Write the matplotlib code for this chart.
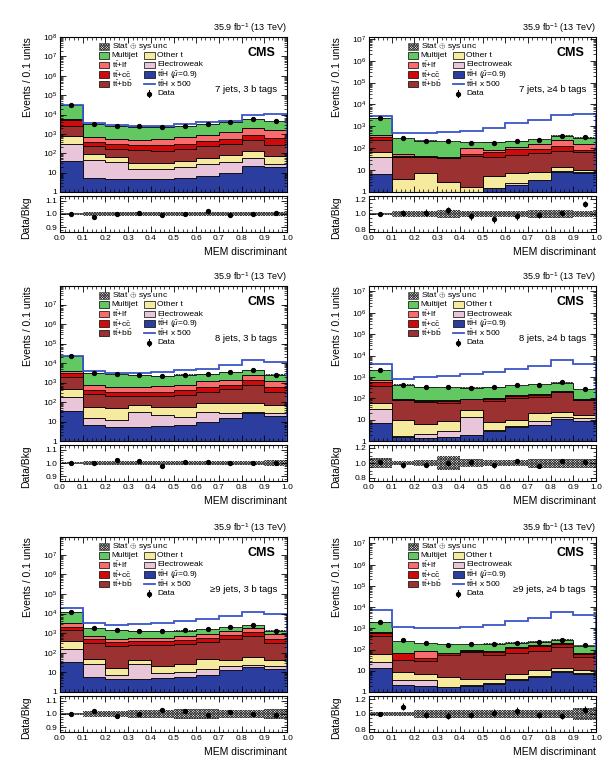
import numpy as np
import matplotlib
matplotlib.use("Agg")
import matplotlib.pyplot as plt
from matplotlib.patches import Rectangle
from matplotlib.ticker import MultipleLocator, LogLocator, FuncFormatter, NullFormatter

plt.rcParams['font.family'] = ['Liberation Sans', 'DejaVu Sans']
plt.rcParams['mathtext.fontset'] = 'custom'
plt.rcParams['mathtext.rm'] = 'Liberation Sans'
plt.rcParams['mathtext.it'] = 'Liberation Sans:italic'
plt.rcParams['mathtext.bf'] = 'Liberation Sans:bold'
plt.rcParams['hatch.linewidth'] = 0.55

# bin edges of the MEM discriminant
edges = [0.0, 0.1, 0.2, 0.3, 0.4, 0.5, 0.6, 0.7, 0.8, 0.9, 1.0]

# stack order (bottom -> top)
proc_labels = [r"$\mathrm{t\bar{t}H}$ ($\hat{\mu}$=0.9)", "Electroweak", "Other t",
               r"$\mathrm{t\bar{t}}$+$\mathrm{b\bar{b}}$", r"$\mathrm{t\bar{t}}$+$\mathrm{c\bar{c}}$",
               r"$\mathrm{t\bar{t}}$+lf", "Multijet"]
proc_colors = ["#2b3d9e", "#e8c5d9", "#f6ea9e", "#9b3131", "#d00a0a", "#fb6b6b", "#62c862"]
line_blue = "#3a55c8"
hatch_col = "0.2"
hatch_pat = "x" * 13

# cumulative stack levels per category (ttH, +EW, +other t, +bb, +cc, +lf, +multijet)
stack_7j3b = [
    [38, 5.5, 4.9, 4.9, 4.9, 5.5, 6.7, 9.6, 22, 19.5],
    [315, 47, 35, 16, 16, 19.5, 29, 35, 59, 29],
    [745, 88, 64, 33, 33, 38, 57, 78, 125, 69],
    [2460, 236, 172, 141, 130, 160, 228, 290, 465, 255],
    [5000, 380, 290, 255, 255, 315, 430, 565, 915, 610],
    [6100, 690, 565, 500, 540, 690, 915, 1250, 2000, 1520],
    [30000, 3300, 2600, 2400, 2400, 2650, 3150, 4000, 5800, 4400],
]
data_7j3b = [30000, 3230, 2600, 2420, 2380, 2650, 3210, 3960, 5800, 4440]
tth500_7j3b = [31000, 3700, 2800, 2500, 2600, 3100, 3900, 4600, 10000, 11000]
ratio_7j3b = [1.00, 0.98, 1.00, 1.01, 0.99, 1.00, 1.02, 0.99, 1.00, 1.01]
rerr_7j3b = [0.005, 0.01, 0.01, 0.01, 0.01, 0.01, 0.01, 0.01, 0.01, 0.01]
band_7j3b = [0.01, 0.018, 0.018, 0.018, 0.018, 0.018, 0.018, 0.018, 0.018, 0.018]

stack_7j4b = [
    [6.5, 0.9, 0.9, 0.9, 0.9, 1.5, 2.0, 3.4, 8.3, 7.7],
    [40, 0.95, 0.95, 0.95, 0.95, 1.6, 2.7, 3.6, 8.8, 8.2],
    [64, 4.1, 7.7, 2.9, 1.7, 5.4, 7, 8.3, 14, 9.9],
    [235, 40, 40, 34, 45, 40, 48, 62, 76, 69],
    [335, 45, 42, 37, 55, 65, 88, 90, 125, 82],
    [400, 52, 45, 40, 98, 82, 117, 155, 235, 150],
    [2400, 280, 220, 205, 185, 190, 215, 250, 370, 300],
]
data_7j4b = [2400, 283, 224, 215, 179, 177, 209, 248, 374, 342]
tth500_7j4b = [3100, 480, 510, 570, 610, 810, 1470, 1950, 3300, 3800]
ratio_7j4b = [1.00, 1.01, 1.02, 1.05, 0.97, 0.93, 0.97, 0.99, 1.01, 1.14]
rerr_7j4b = [0.01, 0.04, 0.045, 0.045, 0.045, 0.045, 0.045, 0.04, 0.035, 0.04]
band_7j4b = [0.015, 0.035, 0.045, 0.05, 0.045, 0.035, 0.04, 0.055, 0.05, 0.04]

stack_8j3b = [
    [36, 6.6, 5.5, 5.5, 6.2, 6.6, 9.1, 14.6, 26, 19.4],
    [190, 14.6, 12, 32, 22, 16.5, 30, 26.5, 32, 26.5],
    [455, 54, 48, 71, 54, 58, 87, 87, 94, 71],
    [1900, 250, 208, 208, 208, 240, 345, 455, 760, 345],
    [3000, 420, 345, 345, 345, 420, 625, 760, 1370, 580],
    [4000, 705, 625, 625, 680, 760, 1140, 1370, 2300, 1140],
    [23500, 3100, 2600, 2450, 2250, 2550, 2850, 3350, 4350, 2550],
]
data_8j3b = [23500, 3100, 2650, 2490, 2200, 2580, 2860, 3350, 4350, 2550]
tth500_8j3b = [24000, 3700, 3000, 3000, 3400, 4200, 5100, 8200, 14800, 10700]
ratio_8j3b = [1.00, 1.00, 1.02, 1.015, 0.98, 1.01, 1.005, 1.00, 1.00, 1.00]
rerr_8j3b = [0.005, 0.01, 0.01, 0.01, 0.01, 0.01, 0.01, 0.01, 0.01, 0.01]
band_8j3b = [0.01, 0.015, 0.015, 0.015, 0.015, 0.015, 0.015, 0.015, 0.017, 0.025]

stack_8j4b = [
    [7, 1.5, 1.45, 1.6, 1.9, 3.1, 4.3, 5.8, 10.8, 8.4],
    [30, 1.8, 2.2, 2.8, 13.5, 3.3, 4.8, 8.4, 13.5, 12],
    [63, 9.3, 6.2, 8.4, 28, 7.8, 10, 21, 24, 17],
    [390, 81, 70, 63, 90, 75, 100, 121, 188, 81],
    [560, 90, 75, 75, 90, 90, 130, 140, 200, 90],
    [720, 97, 84, 81, 97, 108, 140, 155, 225, 97],
    [2000, 440, 340, 320, 315, 340, 400, 450, 540, 265],
]
data_8j4b = [2040, 427, 333, 320, 318, 330, 412, 432, 556, 268]
tth500_8j4b = [3900, 810, 970, 1070, 1300, 1700, 2400, 3300, 6100, 4200]
ratio_8j4b = [1.02, 0.97, 0.98, 1.00, 1.01, 0.97, 1.03, 0.96, 1.03, 1.01]
rerr_8j4b = [0.02, 0.03, 0.03, 0.035, 0.03, 0.03, 0.03, 0.03, 0.03, 0.035]
band_8j4b = [0.065, 0.03, 0.035, 0.09, 0.05, 0.035, 0.045, 0.06, 0.06, 0.06]

stack_9j3b = [
    [34, 5.9, 4.8, 4.8, 5.2, 5.9, 7.7, 12.8, 19, 14.5],
    [152, 28, 7.7, 28, 9.8, 10.6, 15.6, 20.6, 25, 21.5],
    [390, 51, 17, 42, 21.5, 28, 51, 42, 62, 42],
    [1440, 300, 225, 240, 240, 265, 360, 480, 730, 300],
    [2130, 500, 360, 390, 390, 440, 600, 800, 1180, 530],
    [3160, 730, 530, 575, 575, 700, 960, 1280, 1880, 960],
    [12500, 1750, 1420, 1300, 1280, 1340, 1580, 2000, 2500, 1330],
]
data_9j3b = [12500, 1790, 1400, 1300, 1320, 1370, 1570, 2030, 2500, 1320]
tth500_9j3b = [20000, 3160, 2600, 2800, 3160, 4200, 5200, 7400, 12500, 9200]
ratio_9j3b = [1.00, 1.025, 0.985, 1.00, 1.03, 1.02, 0.995, 1.015, 1.00, 0.995]
rerr_9j3b = [0.005, 0.012, 0.012, 0.012, 0.013, 0.013, 0.012, 0.012, 0.012, 0.012]
band_9j3b = [0.01, 0.02, 0.022, 0.028, 0.028, 0.04, 0.035, 0.03, 0.03, 0.035]

stack_9j4b = [
    [14, 2.2, 2.0, 1.7, 2.0, 2.4, 3.5, 5.1, 8.8, 6.8],
    [26, 3.5, 3.5, 1.8, 2.2, 2.7, 3.9, 5.6, 9.5, 7.9],
    [62, 8.8, 7.3, 5.1, 4.2, 4.2, 7.3, 10.6, 14.2, 10.6],
    [420, 32, 30, 55, 74, 55, 66, 86, 125, 43],
    [610, 66, 38, 66, 90, 80, 116, 150, 188, 62],
    [680, 72, 86, 72, 96, 90, 130, 168, 200, 72],
    [2000, 245, 200, 175, 175, 185, 205, 235, 290, 150],
]
data_9j4b = [2000, 270, 198, 172, 173, 189, 213, 233, 284, 159]
tth500_9j4b = [7400, 1180, 1060, 990, 1140, 1370, 2200, 3200, 5600, 4100]
ratio_9j4b = [1.00, 1.10, 0.99, 0.98, 0.99, 1.02, 1.04, 0.99, 0.98, 1.06]
rerr_9j4b = [0.02, 0.05, 0.04, 0.045, 0.04, 0.045, 0.05, 0.04, 0.04, 0.05]
band_9j4b = [0.027, 0.03, 0.05, 0.05, 0.05, 0.058, 0.05, 0.05, 0.05, 0.08]

W, H = 616, 771
AX_W, AX_H, R_H = 227, 155, 36
fig = plt.figure(figsize=(W / 100, H / 100), dpi=100)


def box(x0, y0, w, h):
    return [x0 / W, 1 - (y0 + h) / H, w / W, h / H]


def log_fmt(v, pos):
    if v <= 0:
        return ""
    n = int(round(np.log10(v)))
    if abs(np.log10(v) - n) > 1e-6:
        return ""
    if n == 0:
        return "1"
    if n == 1:
        return "10"
    return r"$10^{%d}$" % n


def style_ticks(a):
    a.tick_params(which='both', direction='in', top=True, right=True, labelsize=6.0, pad=2)
    a.tick_params(which='major', length=4.5, width=0.6)
    a.tick_params(which='minor', length=2.3, width=0.5)
    for s in a.spines.values():
        s.set_linewidth(0.8)


def draw_legend(ax):
    # hand-placed legend, offsets in pixels from the axes top-left corner
    def fx(px):
        return px / AX_W

    def fy(py):
        return 1 - py / AX_H

    rows = [9.7, 18.5, 28.0, 37.5, 47.0, 56.5]
    bw, bh = 10.3, 6.7
    c1_box, c1_txt = 38.7, 51.7
    c2_box, c2_txt = 84.3, 97.3
    tr = ax.transAxes

    col1 = [("hatch", r"Stat $\oplus$ sys unc"), (6, proc_labels[6]), (5, proc_labels[5]),
            (4, proc_labels[4]), (3, proc_labels[3])]
    for r, (key, lab) in enumerate(col1):
        yc = rows[r]
        if key == "hatch":
            ax.add_patch(Rectangle((fx(c1_box), fy(yc + bh / 2)), fx(bw), bh / AX_H, transform=tr,
                                   facecolor='white', edgecolor=hatch_col, hatch=hatch_pat,
                                   linewidth=0.4, clip_on=False))
        else:
            ax.add_patch(Rectangle((fx(c1_box), fy(yc + bh / 2)), fx(bw), bh / AX_H, transform=tr,
                                   facecolor=proc_colors[key], edgecolor='black',
                                   linewidth=0.5, clip_on=False))
        ax.text(fx(c1_txt), fy(yc), lab, transform=tr, ha='left', va='center', fontsize=6)

    col2 = [(2, proc_labels[2]), (1, proc_labels[1]), (0, proc_labels[0]),
            ("line", r"$\mathrm{t\bar{t}H}$ x 500"), ("data", "Data")]
    for r, (key, lab) in enumerate(col2):
        yc = rows[r + 1]
        if key == "line":
            ax.plot([fx(c2_box), fx(c2_box + bw)], [fy(yc), fy(yc)], transform=tr,
                    color=line_blue, lw=1.3, clip_on=False)
        elif key == "data":
            xm = fx(c2_box + bw / 2)
            ax.plot([xm, xm], [fy(yc - 3.5), fy(yc + 3.5)], transform=tr, color='black',
                    lw=0.8, clip_on=False)
            ax.plot([xm], [fy(yc)], 'o', transform=tr, color='black', ms=2.8, clip_on=False)
        else:
            ax.add_patch(Rectangle((fx(c2_box), fy(yc + bh / 2)), fx(bw), bh / AX_H, transform=tr,
                                   facecolor=proc_colors[key], edgecolor='black',
                                   linewidth=0.5, clip_on=False))
        ax.text(fx(c2_txt), fy(yc), lab, transform=tr, ha='left', va='center', fontsize=6)


def draw_panel(x0, y0, stack, data, tth500, ratio, rerr, band, ymax, four_b, cat):
    ax = fig.add_axes(box(x0, y0, AX_W, AX_H))
    rax = fig.add_axes(box(x0, y0 + AX_H + 4, AX_W, R_H))
    centers = np.array(edges[:-1]) + 0.05

    lower = np.full(10, 1e-3)
    for lev, c in zip(stack, proc_colors):
        lev = np.array(lev, float)
        ax.stairs(lev, edges, baseline=lower, fill=True, facecolor=c,
                  edgecolor='black', linewidth=0.6)
        lower = lev
    total = lower
    band = np.array(band)
    ax.stairs(total * (1 + band), edges, baseline=total * (1 - band), fill=True,
              facecolor='none', edgecolor=hatch_col, hatch=hatch_pat, linewidth=0)
    ax.stairs(tth500, edges, color=line_blue, linewidth=1.3)
    data = np.array(data, float)
    ax.errorbar(centers, data, yerr=data * np.array(rerr), fmt='o', color='black',
                ms=2.8, lw=0.8, capsize=0)

    ax.set_yscale('log')
    ax.set_xlim(0, 1)
    ax.set_ylim(1, ymax)
    ax.yaxis.set_major_locator(LogLocator(base=10, numticks=20))
    ax.yaxis.set_minor_locator(LogLocator(base=10, subs=np.arange(2, 10) * 1.0, numticks=20))
    ax.yaxis.set_major_formatter(FuncFormatter(log_fmt))
    ax.yaxis.set_minor_formatter(NullFormatter())
    ax.xaxis.set_major_locator(MultipleLocator(0.1))
    ax.xaxis.set_minor_locator(MultipleLocator(0.02))
    style_ticks(ax)
    ax.tick_params(labelbottom=False)
    ax.set_ylabel("Events / 0.1 units", fontsize=7.5, loc='top')
    ax.yaxis.set_label_coords(-0.12, 1.0)

    ax.text(1.0, 1.015, r"35.9 fb$^{-1}$ (13 TeV)", transform=ax.transAxes,
            ha='right', va='bottom', fontsize=6.5)
    ax.text(0.947, 0.897, "CMS", transform=ax.transAxes, ha='right', va='center',
            fontsize=9, fontweight='bold')
    ax.text(0.956, 0.66, cat, transform=ax.transAxes, ha='right', va='center', fontsize=6.8)
    draw_legend(ax)

    # ratio panel
    rax.stairs(1 + band, edges, baseline=1 - band, fill=True, facecolor='none',
               edgecolor=hatch_col, hatch=hatch_pat, linewidth=0)
    rax.errorbar(centers, ratio, yerr=rerr, fmt='o', color='black', ms=2.8, lw=0.8, capsize=0)
    rax.set_xlim(0, 1)
    rax.xaxis.set_major_locator(MultipleLocator(0.1))
    rax.xaxis.set_minor_locator(MultipleLocator(0.02))
    rax.xaxis.set_major_formatter(FuncFormatter(lambda v, p: "%.1f" % v))
    if four_b:
        rax.set_ylim(0.76, 1.24)
        rax.set_yticks([0.8, 1.0, 1.2])
        rax.yaxis.set_minor_locator(MultipleLocator(0.05))
    else:
        rax.set_ylim(0.865, 1.135)
        rax.set_yticks([0.9, 1.0, 1.1])
        rax.yaxis.set_minor_locator(MultipleLocator(0.02))
    rax.yaxis.set_major_formatter(FuncFormatter(lambda v, p: "%.1f" % v))
    style_ticks(rax)
    rax.set_ylabel("Data/Bkg", fontsize=7.5, loc='top')
    rax.yaxis.set_label_coords(-0.125, 1.0)
    rax.set_xlabel("MEM discriminant", fontsize=7.5, loc='right', labelpad=4)


cols = [60, 369]
rows = [37, 286, 537]

draw_panel(cols[0], rows[0], stack_7j3b, data_7j3b, tth500_7j3b, ratio_7j3b, rerr_7j3b,
           band_7j3b, 1e8, False, "7 jets, 3 b tags")
draw_panel(cols[1], rows[0], stack_7j4b, data_7j4b, tth500_7j4b, ratio_7j4b, rerr_7j4b,
           band_7j4b, 1.2e7, True, "7 jets, \u22654 b tags")
draw_panel(cols[0], rows[1], stack_8j3b, data_8j3b, tth500_8j3b, ratio_8j3b, rerr_8j3b,
           band_8j3b, 9e7, False, "8 jets, 3 b tags")
draw_panel(cols[1], rows[1], stack_8j4b, data_8j4b, tth500_8j4b, ratio_8j4b, rerr_8j4b,
           band_8j4b, 1.8e7, True, "8 jets, \u22654 b tags")
draw_panel(cols[0], rows[2], stack_9j3b, data_9j3b, tth500_9j3b, ratio_9j3b, rerr_9j3b,
           band_9j3b, 8e7, False, "\u22659 jets, 3 b tags")
draw_panel(cols[1], rows[2], stack_9j4b, data_9j4b, tth500_9j4b, ratio_9j4b, rerr_9j4b,
           band_9j4b, 2e7, True, "\u22659 jets, \u22654 b tags")

fig.savefig("out.png", dpi=100)
